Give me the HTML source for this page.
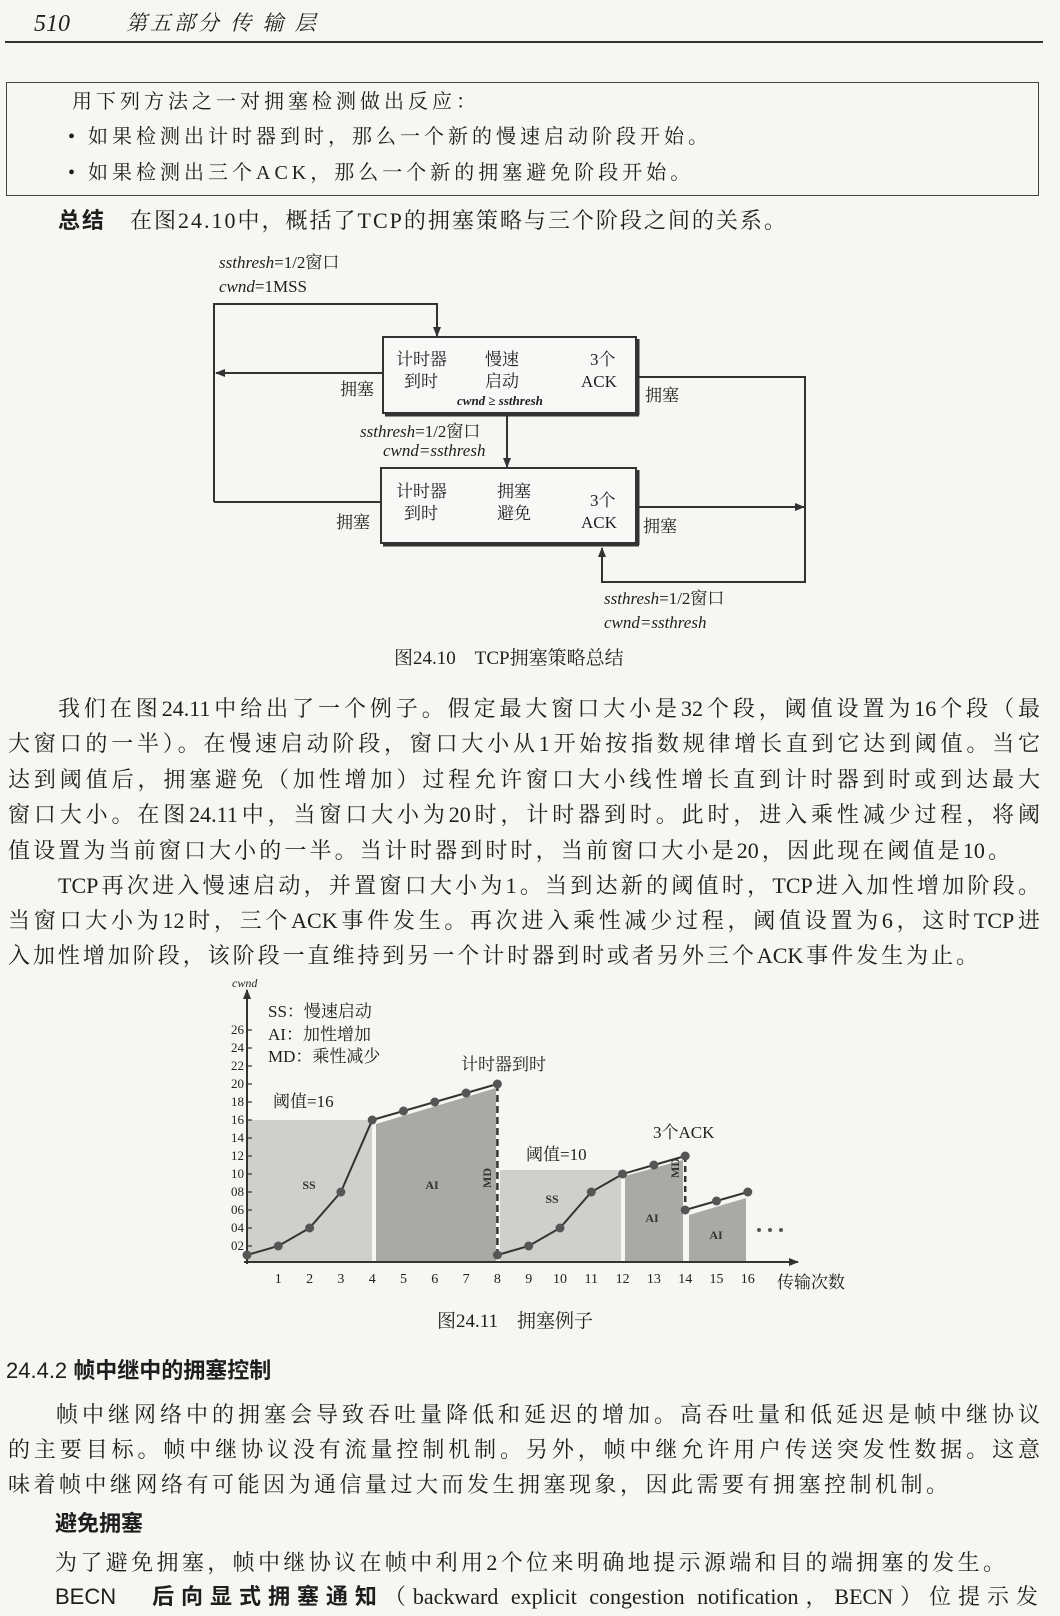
<!DOCTYPE html>
<html><head><meta charset="utf-8"><style>
html,body{margin:0;padding:0;background:#f6f6f3;}
#pg{position:relative;width:1060px;height:1616px;overflow:hidden;background:#f6f6f3;color:#1e1e1e;font-family:"Liberation Serif","Noto Serif CJK SC",serif;}
.t{position:absolute;white-space:nowrap;line-height:1;}
.j{position:absolute;white-space:nowrap;line-height:1;text-align:justify;text-align-last:justify;font-size:22px;left:8px;width:1032px;}
.s{font-family:"Liberation Sans","Noto Sans CJK SC",sans-serif;}
.b{font-weight:bold;}
.i{font-style:italic;}
</style></head><body><div id="pg">
<!-- header -->
<div class="t i" style="left:34px;top:12px;font-size:24px;">510</div>
<div class="t i" style="left:126px;top:13px;font-size:21px;letter-spacing:3px;">第五部分 传 输 层</div>
<div style="position:absolute;left:5px;top:41px;width:1038px;height:2px;background:#333;"></div>
<!-- box -->
<div style="position:absolute;left:6px;top:82px;width:1031px;height:112px;border:1.5px solid #444;"></div>
<div class="t" style="left:72px;top:92px;font-size:20px;letter-spacing:4px;">用下列方法之一对拥塞检测做出反应：</div>
<div class="t" style="left:68px;top:127px;font-size:20px;letter-spacing:4px;">• 如果检测出计时器到时，那么一个新的慢速启动阶段开始。</div>
<div class="t" style="left:68px;top:163px;font-size:20px;letter-spacing:4px;">• 如果检测出三个ACK，那么一个新的拥塞避免阶段开始。</div>
<div class="t" style="left:58px;top:210px;font-size:22px;letter-spacing:2px;"><span class="s b">总结</span>　在图24.10中，概括了TCP的拥塞策略与三个阶段之间的关系。</div>

<!-- diagram 1 -->
<svg style="position:absolute;left:0;top:0" width="1060" height="700">
<defs><marker id="a" markerWidth="10" markerHeight="10" refX="9" refY="5" orient="auto" markerUnits="userSpaceOnUse"><path d="M0,1 L10,5 L0,9 Z" fill="#333"/></marker></defs>
<g stroke="#333" stroke-width="2" fill="none">
<polyline points="214,502 214,304 437,304 437,336" marker-end="url(#a)"/>
<line x1="383" y1="373" x2="216" y2="373" marker-end="url(#a)"/>
<line x1="214" y1="502" x2="381" y2="502"/>
<polyline points="636,377 805,377 805,582 602,582 602,548" marker-end="url(#a)"/>
<line x1="636" y1="507" x2="804" y2="507" marker-end="url(#a)"/>
<line x1="507" y1="414" x2="507" y2="467" marker-end="url(#a)"/>
<rect x="383" y="337" width="253" height="76" fill="#f8f8f6"/>
<rect x="381" y="468" width="255" height="75" fill="#f8f8f6"/>
</g>
<g stroke="#333" stroke-width="3">
<line x1="385" y1="415" x2="639" y2="415"/><line x1="638" y1="339" x2="638" y2="415"/>
<line x1="383" y1="545" x2="639" y2="545"/><line x1="638" y1="470" x2="638" y2="545"/>
</g>
</svg>
<div class="t i" style="left:219px;top:254px;font-size:17px;">ssthresh<span style="font-style:normal">=1/2窗口</span></div>
<div class="t i" style="left:219px;top:278px;font-size:17px;">cwnd<span style="font-style:normal">=1MSS</span></div>
<div class="t" style="left:396px;top:351px;font-size:17px;">计时器</div>
<div class="t" style="left:404px;top:373px;font-size:17px;">到时</div>
<div class="t" style="left:485px;top:351px;font-size:17px;">慢速</div>
<div class="t" style="left:485px;top:373px;font-size:17px;">启动</div>
<div class="t" style="left:590px;top:351px;font-size:17px;">3个</div>
<div class="t" style="left:581px;top:373px;font-size:17px;">ACK</div>
<div class="t i b" style="left:457px;top:394px;font-size:13px;">cwnd ≥ ssthresh</div>
<div class="t" style="left:340px;top:381px;font-size:17px;">拥塞</div>
<div class="t" style="left:645px;top:387px;font-size:17px;">拥塞</div>
<div class="t i" style="left:360px;top:423px;font-size:17px;">ssthresh<span style="font-style:normal">=1/2窗口</span></div>
<div class="t i" style="left:383px;top:442px;font-size:17px;">cwnd=ssthresh</div>
<div class="t" style="left:396px;top:483px;font-size:17px;">计时器</div>
<div class="t" style="left:404px;top:505px;font-size:17px;">到时</div>
<div class="t" style="left:497px;top:483px;font-size:17px;">拥塞</div>
<div class="t" style="left:497px;top:505px;font-size:17px;">避免</div>
<div class="t" style="left:590px;top:492px;font-size:17px;">3个</div>
<div class="t" style="left:581px;top:514px;font-size:17px;">ACK</div>
<div class="t" style="left:336px;top:514px;font-size:17px;">拥塞</div>
<div class="t" style="left:643px;top:518px;font-size:17px;">拥塞</div>
<div class="t i" style="left:604px;top:590px;font-size:17px;">ssthresh<span style="font-style:normal">=1/2窗口</span></div>
<div class="t i" style="left:604px;top:614px;font-size:17px;">cwnd=ssthresh</div>
<div class="t" style="left:394px;top:649px;font-size:19px;">图24.10　TCP拥塞策略总结</div>

<!-- paragraph -->
<div class="j" style="top:698px;left:58px;width:982px;">我们在图24.11中给出了一个例子。假定最大窗口大小是32个段，阈值设置为16个段（最</div>
<div class="j" style="top:733px;">大窗口的一半）。在慢速启动阶段，窗口大小从1开始按指数规律增长直到它达到阈值。当它</div>
<div class="j" style="top:769px;">达到阈值后，拥塞避免（加性增加）过程允许窗口大小线性增长直到计时器到时或到达最大</div>
<div class="j" style="top:804px;">窗口大小。在图24.11中，当窗口大小为20时，计时器到时。此时，进入乘性减少过程，将阈</div>
<div class="j" style="top:840px;width:1002px;">值设置为当前窗口大小的一半。当计时器到时时，当前窗口大小是20，因此现在阈值是10。</div>
<div class="j" style="top:875px;left:58px;width:982px;">TCP再次进入慢速启动，并置窗口大小为1。当到达新的阈值时，TCP进入加性增加阶段。</div>
<div class="j" style="top:910px;">当窗口大小为12时，三个ACK事件发生。再次进入乘性减少过程，阈值设置为6，这时TCP进</div>
<div class="j" style="top:945px;width:970px;">入加性增加阶段，该阶段一直维持到另一个计时器到时或者另外三个ACK事件发生为止。</div>

<!-- chart -->
<svg style="position:absolute;left:0;top:0" width="1060" height="1340">
<defs><marker id="b" markerWidth="10" markerHeight="10" refX="9" refY="5" orient="auto" markerUnits="userSpaceOnUse"><path d="M0,1 L10,5 L0,9 Z" fill="#333"/></marker></defs>
<rect x="247" y="1120" width="125" height="142" fill="#cfcfcc"/>
<polygon points="376,1124 496,1088 496,1262 376,1262" fill="#a9a9a6"/>
<rect x="500" y="1170" width="121" height="92" fill="#cfcfcc"/>
<polygon points="625,1176 683,1160 683,1262 625,1262" fill="#a9a9a6"/>
<polygon points="689,1215 746,1198 746,1262 689,1262" fill="#a9a9a6"/>
<g stroke="#333" stroke-width="2" fill="none">
<line x1="247" y1="1264" x2="247" y2="990" marker-end="url(#b)"/>
<line x1="244" y1="1262" x2="798" y2="1262" marker-end="url(#b)"/>
<polyline points="247,1255 278.3,1246 309.6,1228 340.9,1192 372.2,1120 403.5,1111 434.8,1102 466.1,1093 497.4,1084"/>
<polyline points="497.4,1255 528.7,1246 560,1228 591.3,1192 622.6,1174 653.9,1165 685.2,1156"/>
<polyline points="685.2,1210 716.5,1201 747.8,1192"/>
<line x1="497.4" y1="1084" x2="497.4" y2="1255" stroke-dasharray="7,4" stroke-width="2.5"/>
<line x1="685.2" y1="1156" x2="685.2" y2="1210" stroke-dasharray="6,4" stroke-width="2.5"/>
</g>
<g fill="#555">
<circle cx="247" cy="1255" r="4.5"/><circle cx="278.3" cy="1246" r="4.5"/><circle cx="309.6" cy="1228" r="4.5"/><circle cx="340.9" cy="1192" r="4.5"/><circle cx="372.2" cy="1120" r="4.5"/><circle cx="403.5" cy="1111" r="4.5"/><circle cx="434.8" cy="1102" r="4.5"/><circle cx="466.1" cy="1093" r="4.5"/><circle cx="497.4" cy="1084" r="4.5"/>
<circle cx="497.4" cy="1255" r="4.5"/><circle cx="528.7" cy="1246" r="4.5"/><circle cx="560" cy="1228" r="4.5"/><circle cx="591.3" cy="1192" r="4.5"/><circle cx="622.6" cy="1174" r="4.5"/><circle cx="653.9" cy="1165" r="4.5"/><circle cx="685.2" cy="1156" r="4.5"/>
<circle cx="685.2" cy="1210" r="4.5"/><circle cx="716.5" cy="1201" r="4.5"/><circle cx="747.8" cy="1192" r="4.5"/>
<circle cx="759" cy="1230" r="2"/><circle cx="770" cy="1230" r="2"/><circle cx="781" cy="1230" r="2"/>
</g>
<g stroke="#333" stroke-width="1.2">
<line x1="247" y1="1246" x2="252" y2="1246"/><line x1="247" y1="1228" x2="252" y2="1228"/><line x1="247" y1="1210" x2="252" y2="1210"/><line x1="247" y1="1192" x2="252" y2="1192"/><line x1="247" y1="1174" x2="252" y2="1174"/><line x1="247" y1="1156" x2="252" y2="1156"/><line x1="247" y1="1138" x2="252" y2="1138"/><line x1="247" y1="1120" x2="252" y2="1120"/><line x1="247" y1="1102" x2="252" y2="1102"/><line x1="247" y1="1084" x2="252" y2="1084"/><line x1="247" y1="1066" x2="252" y2="1066"/><line x1="247" y1="1048" x2="252" y2="1048"/><line x1="247" y1="1030" x2="252" y2="1030"/>
</g>
<g font-family="Liberation Serif" font-size="13" fill="#222" text-anchor="end">
<text x="244" y="1250">02</text><text x="244" y="1232">04</text><text x="244" y="1214">06</text><text x="244" y="1196">08</text><text x="244" y="1178">10</text><text x="244" y="1160">12</text><text x="244" y="1142">14</text><text x="244" y="1124">16</text><text x="244" y="1106">18</text><text x="244" y="1088">20</text><text x="244" y="1070">22</text><text x="244" y="1052">24</text><text x="244" y="1034">26</text>
</g>
<g font-family="Liberation Serif" font-size="14" fill="#222" text-anchor="middle">
<text x="278.3" y="1283">1</text><text x="309.6" y="1283">2</text><text x="340.9" y="1283">3</text><text x="372.2" y="1283">4</text><text x="403.5" y="1283">5</text><text x="434.8" y="1283">6</text><text x="466.1" y="1283">7</text><text x="497.4" y="1283">8</text><text x="528.7" y="1283">9</text><text x="560" y="1283">10</text><text x="591.3" y="1283">11</text><text x="622.6" y="1283">12</text><text x="653.9" y="1283">13</text><text x="685.2" y="1283">14</text><text x="716.5" y="1283">15</text><text x="747.8" y="1283">16</text>
</g>
<g font-family="Liberation Serif" font-size="12" font-weight="bold" fill="#333" text-anchor="middle">
<text x="309" y="1189">SS</text><text x="432" y="1189">AI</text><text x="552" y="1203">SS</text><text x="652" y="1222">AI</text><text x="716" y="1239">AI</text>
<text transform="translate(491,1178) rotate(-90)">MD</text><text transform="translate(679,1168) rotate(-90)">MD</text>
</g>
<text x="232" y="987" font-family="Liberation Serif" font-size="12" font-style="italic" fill="#222">cwnd</text>
</svg>
<div class="t" style="left:268px;top:1003px;font-size:17px;">SS：慢速启动</div>
<div class="t" style="left:268px;top:1026px;font-size:17px;">AI：加性增加</div>
<div class="t" style="left:268px;top:1048px;font-size:17px;">MD：乘性减少</div>
<div class="t" style="left:461px;top:1056px;font-size:17px;">计时器到时</div>
<div class="t" style="left:273px;top:1093px;font-size:17px;">阈值=16</div>
<div class="t" style="left:526px;top:1146px;font-size:17px;">阈值=10</div>
<div class="t" style="left:653px;top:1124px;font-size:17px;">3个ACK</div>
<div class="t" style="left:777px;top:1274px;font-size:17px;">传输次数</div>
<div class="t" style="left:437px;top:1312px;font-size:19px;">图24.11　拥塞例子</div>

<!-- section -->
<div class="t s b" style="left:6px;top:1360px;font-size:22px;"><span style="font-weight:normal">24.4.2</span> 帧中继中的拥塞控制</div>
<div class="j" style="top:1404px;left:56px;width:984px;">帧中继网络中的拥塞会导致吞吐量降低和延迟的增加。高吞吐量和低延迟是帧中继协议</div>
<div class="j" style="top:1439px;">的主要目标。帧中继协议没有流量控制机制。另外，帧中继允许用户传送突发性数据。这意</div>
<div class="j" style="top:1474px;width:940px;">味着帧中继网络有可能因为通信量过大而发生拥塞现象，因此需要有拥塞控制机制。</div>
<div class="t s b" style="left:55px;top:1513px;font-size:22px;">避免拥塞</div>
<div class="j" style="top:1552px;left:55px;width:950px;">为了避免拥塞，帧中继协议在帧中利用2个位来明确地提示源端和目的端拥塞的发生。</div>
<div class="j" style="top:1586px;left:55px;width:983px;"><span class="s">BECN</span>　<span class="s b">后向显式拥塞通知</span>（backward explicit congestion notification，BECN）位提示发</div>
</div></body></html>
